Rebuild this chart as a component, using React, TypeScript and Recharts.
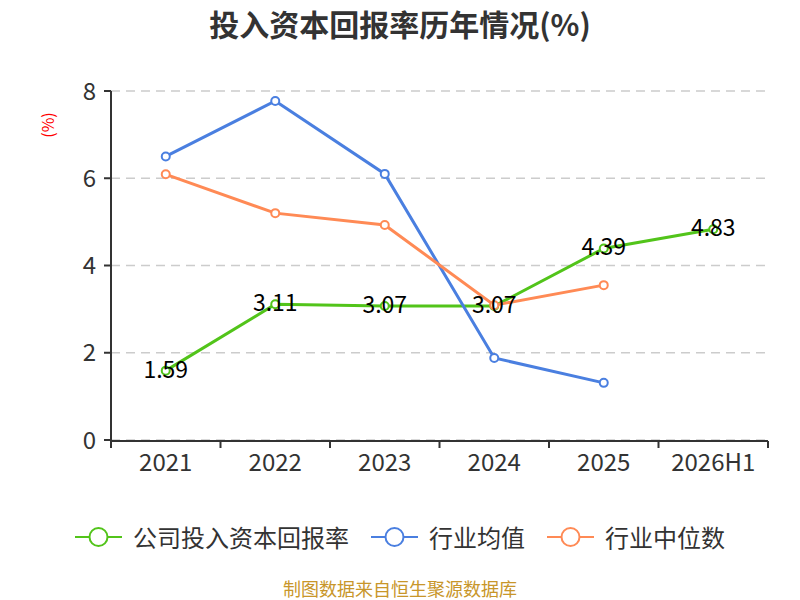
import React from "react";
import { LineChart, Line, XAxis, YAxis, CartesianGrid, LabelList } from "recharts";

const categories = ["2021", "2022", "2023", "2024", "2025", "2026H1"];
const companyValues = [1.59, 3.11, 3.07, 3.07, 4.39, 4.83];
const industryAvg: (number | null)[] = [6.5, 7.77, 6.1, 1.88, 1.31, null];
const industryMedian: (number | null)[] = [6.09, 5.2, 4.93, 3.09, 3.55, null];
const yTicks = [0, 2, 4, 6, 8];

const seriesNames = ["公司投入资本回报率", "行业均值", "行业中位数"];
const seriesColors = ["#52c41a", "#4a7fe0", "#ff8a55"];

const data = categories.map((c, i) => ({
  idx: i,
  name: c,
  company: companyValues[i],
  avg: industryAvg[i],
  median: industryMedian[i],
}));

const labelTicks = categories.map((_, i) => i);
const boundaryTicks = [...categories.map((_, i) => i - 0.5), categories.length - 0.5];

const FONT = '"Noto Sans CJK SC", "Noto Sans", sans-serif';

const ValueLabel = (props: any) => {
  const { x, y, value } = props;
  return (
    <text x={x} y={y - 3} textAnchor="middle" dominantBaseline="central" fontSize={23} fill="#000" fontFamily={FONT}>
      {value}
    </text>
  );
};

const LegendIcon = ({ color }: { color: string }) => (
  <svg width={47} height={22} style={{ display: "block" }}>
    <line x1={0} y1={11} x2={47} y2={11} stroke={color} strokeWidth={2} />
    <circle cx={23.5} cy={11} r={9} fill="#fff" stroke={color} strokeWidth={2} />
  </svg>
);

export default function App() {
  const dotStyle = (color: string) => ({ r: 4, fill: "#fff", stroke: color, strokeWidth: 2 });
  return (
    <div style={{ position: "absolute", left: 0, top: 0, width: 800, height: 600, background: "#fff", fontFamily: FONT, overflow: "hidden" }}>
      <div style={{ position: "absolute", left: 0, top: 3, width: 800, textAlign: "center", fontSize: 30, fontWeight: "bold", color: "#333", lineHeight: "40px" }}>
        投入资本回报率历年情况(%)
      </div>
      <div
        style={{
          position: "absolute",
          left: 47,
          top: 125,
          transform: "translate(-50%, -50%) rotate(-90deg)",
          color: "#ff0000",
          fontSize: 16,
          whiteSpace: "nowrap",
        }}
      >
        (%)
      </div>
      <LineChart width={800} height={600} data={data} margin={{ top: 91, right: 32, left: 0, bottom: 158 }}>
        <CartesianGrid vertical={false} stroke="#cccccc" strokeDasharray="9 6" strokeWidth={1.5} />
        <XAxis
          xAxisId="bound"
          dataKey="idx"
          type="number"
          domain={[-0.5, categories.length - 0.5]}
          ticks={boundaryTicks}
          tickFormatter={() => ""}
          stroke="#333"
          axisLine={{ stroke: "#333", strokeWidth: 2 }}
          tickLine={{ stroke: "#333", strokeWidth: 2 }}
          tickSize={7}
          height={1}
          interval={0}
          allowDataOverflow
        />
        <XAxis
          dataKey="idx"
          type="number"
          domain={[-0.5, categories.length - 0.5]}
          ticks={labelTicks}
          tickFormatter={(v: number) => categories[v] ?? ""}
          axisLine={false}
          tickLine={false}
          tickSize={7}
          tickMargin={7}
          height={1}
          interval={0}
          allowDataOverflow
          tick={{ fontSize: 24, fill: "#333", fontFamily: FONT }}
        />
        <YAxis
          domain={[0, 8]}
          ticks={yTicks}
          width={111}
          stroke="#333"
          axisLine={{ stroke: "#333", strokeWidth: 2 }}
          tickLine={{ stroke: "#333", strokeWidth: 2 }}
          tickSize={7}
          tickMargin={8}
          interval={0}
          tick={{ fontSize: 24, fill: "#333", fontFamily: FONT }}
        />
        <Line
          dataKey="company"
          name={seriesNames[0]}
          stroke={seriesColors[0]}
          strokeWidth={3}
          dot={dotStyle(seriesColors[0])}
          activeDot={false}
          isAnimationActive={false}
        />
        <Line
          dataKey="avg"
          name={seriesNames[1]}
          stroke={seriesColors[1]}
          strokeWidth={3}
          dot={dotStyle(seriesColors[1])}
          activeDot={false}
          isAnimationActive={false}
        />
        <Line
          dataKey="median"
          name={seriesNames[2]}
          stroke={seriesColors[2]}
          strokeWidth={3}
          dot={dotStyle(seriesColors[2])}
          activeDot={false}
          isAnimationActive={false}
        />
        <Line
          dataKey="company"
          stroke="none"
          dot={false}
          activeDot={false}
          legendType="none"
          isAnimationActive={false}
        >
          <LabelList dataKey="company" content={ValueLabel} />
        </Line>
      </LineChart>
      <div
        style={{
          position: "absolute",
          left: 0,
          top: 521,
          width: 800,
          display: "flex",
          justifyContent: "center",
          alignItems: "center",
        }}
      >
        {seriesNames.map((n, i) => (
          <div key={n} style={{ display: "flex", alignItems: "center", marginLeft: i === 0 ? 0 : 22 }}>
            <LegendIcon color={seriesColors[i]} />
            <span style={{ marginLeft: 11, fontSize: 24, color: "#333", lineHeight: "32px" }}>{n}</span>
          </div>
        ))}
      </div>
      <div style={{ position: "absolute", left: 0, top: 578, width: 800, textAlign: "center", fontSize: 18, color: "#c8962a", lineHeight: "20px" }}>
        制图数据来自恒生聚源数据库
      </div>
    </div>
  );
}
